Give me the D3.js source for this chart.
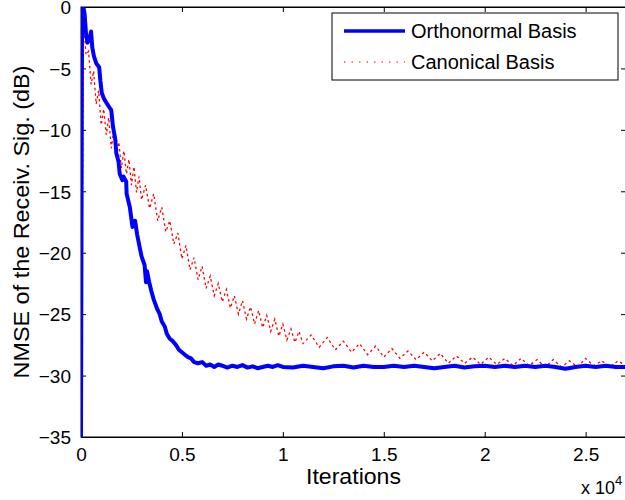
<!DOCTYPE html>
<html>
<head>
<meta charset="utf-8">
<script src="https://cdn.jsdelivr.net/npm/d3@7"></script>
<style>
  body { margin: 0; background: #fff; }
  text { font-family: "Liberation Sans", Arial, Helvetica, sans-serif; }
</style>
</head>
<body>
<script>
// ---- data ----
var xTicks = [0, 5000, 10000, 15000, 20000, 25000];
var xTickLabels = ["0", "0.5", "1", "1.5", "2", "2.5"];
var yTicks = [0, -5, -10, -15, -20, -25, -30, -35];
var yTickLabels = ["0", "\u22125", "\u221210", "\u221215", "\u221220", "\u221225", "\u221230", "\u221235"];

var seriesNames = ["Orthonormal Basis", "Canonical Basis"];

var orthoIter = [0, 50, 120, 180, 250, 320, 420, 500, 560, 640, 760, 900, 960, 1030, 1150, 1260, 1420, 1500,
    1580, 1700, 1750, 1860, 1920, 2050, 2100, 2240, 2260, 2420, 2550, 2680, 2780, 2900, 3000, 3150, 3220, 3270,
    3380, 3480, 3600, 3780, 3900, 4000, 4150, 4250, 4400, 4550, 4700, 4850, 5000, 5150, 5300, 5450, 5600, 5800,
    6000, 6200, 6400, 6600, 6800, 7000, 7250, 7500, 7750, 8000, 8250, 8500, 8750, 9000, 9250, 9500, 9750, 10000,
    10500, 11000, 11500, 12000, 12500, 13000, 13500, 14000, 14500, 15000, 15500, 16000, 16500, 17000, 17500,
    18000, 18500, 19000, 19500, 20000, 20500, 21000, 21500, 22000, 22500, 23000, 23500, 24000, 24500, 25000,
    25500, 26000, 26500, 27000];
var orthoVal = [-35, -1.0, 0.0, -0.6, -2.2, -2.9, -2.6, -2.0, -3.3, -4.0, -4.6, -4.9, -6.0, -7.0, -7.5, -7.8, -8.2, -8.4,
    -9.7, -10.8, -11.9, -12.6, -13.6, -14.1, -13.8, -14.2, -15.2, -16.3, -17.9, -17.4, -18.5, -19.5, -20.3, -21.0, -22.4, -21.5,
    -22.4, -23.1, -23.8, -24.6, -25.0, -25.6, -26.0, -26.6, -27.0, -27.2, -27.5, -27.9, -28.1, -28.3, -28.5, -28.6, -28.9, -29.0,
    -28.9, -29.2, -29.1, -29.3, -29.1, -29.2, -29.35, -29.2, -29.3, -29.15, -29.35, -29.25, -29.4, -29.3, -29.2, -29.3, -29.15, -29.3,
    -29.35, -29.2, -29.3, -29.4, -29.25, -29.2, -29.35, -29.2, -29.3, -29.3, -29.2, -29.3, -29.2, -29.3, -29.4,
    -29.3, -29.2, -29.35, -29.25, -29.2, -29.3, -29.2, -29.3, -29.2, -29.3, -29.2, -29.3, -29.45, -29.3, -29.2,
    -29.3, -29.2, -29.3, -29.3];

var canonIter = [0, 125, 250, 375, 500, 625, 750, 875, 1000, 1125, 1250, 1375, 1500, 1625, 1750, 1875, 2000, 2125,
    2250, 2375, 2500, 2625, 2750, 2875, 3000, 3200, 3400, 3600, 3800, 4000, 4200, 4400, 4600, 4800, 5000, 5200,
    5400, 5600, 5800, 6000, 6200, 6400, 6600, 6800, 7000, 7200, 7400, 7600, 7800, 8000, 8200, 8400, 8600, 8800,
    9000, 9200, 9400, 9600, 9800, 10000, 10200, 10400, 10600, 10800, 11000, 11400, 11800, 12200, 12600, 13000,
    13400, 13800, 14200, 14600, 15000, 15400, 15800, 16200, 16600, 17000, 17400, 17800, 18200, 18600, 19000,
    19400, 19800, 20200, 20600, 21000, 21400, 21800, 22200, 22600, 23000, 23400, 23800, 24200, 24600, 25000,
    25400, 25800, 26200, 26600, 27000];
var canonVal = [-35, -1.2, -3.9, -3.6, -6.3, -5.2, -7.9, -6.8, -9.6, -8.3, -10.4, -9.0, -11.5, -10.1, -12.2, -11.0, -13.1, -11.7,
    -13.6, -12.4, -14.5, -13.0, -15.1, -13.8, -15.7, -14.5, -16.4, -15.2, -17.4, -16.3, -18.3, -17.4, -19.3, -18.4, -20.5, -19.4,
    -21.4, -20.4, -22.2, -21.1, -22.9, -21.9, -23.5, -22.5, -24.0, -23.0, -24.5, -23.5, -25.0, -23.9, -25.4, -24.4, -25.8, -24.7,
    -26.1, -25.1, -26.4, -25.4, -26.8, -25.8, -27.1, -26.2, -27.3, -26.4, -27.4, -26.7, -27.7, -26.9, -27.9, -27.2,
    -28.1, -27.4, -28.3, -27.6, -28.5, -27.8, -28.6, -28.0, -28.7, -28.1, -28.8, -28.2, -29.0, -28.4, -29.0,
    -28.5, -29.1, -28.5, -29.1, -28.6, -29.2, -28.6, -29.2, -28.7, -29.3, -28.7, -29.3, -28.8, -29.3, -28.6,
    -29.2, -28.8, -29.3, -28.8, -29.2];

// ---- layout ----
var W = 625, H = 500;
var left_ = 81, top_ = 7, plotW = 545, plotH = 430;
var tickLen = 5;

var svg = d3.select("body").append("svg")
    .attr("width", W)
    .attr("height", H);

var x = d3.scaleLinear().domain([0, 27000]).range([left_, left_ + plotW]);
var y = d3.scaleLinear().domain([-35, 0]).range([top_ + plotH, top_]);

svg.append("defs").append("clipPath").attr("id", "clip")
    .append("rect")
    .attr("x", left_).attr("y", top_)
    .attr("width", plotW).attr("height", plotH);

// axes: bottom/left with labels, top/right ticks only (ticks point inward)
var xAxis = d3.axisBottom(x).tickValues(xTicks)
    .tickFormat((d, i) => xTickLabels[i]).tickSizeInner(-tickLen).tickSizeOuter(0).tickPadding(11);
var yAxis = d3.axisLeft(y).tickValues(yTicks)
    .tickFormat((d, i) => yTickLabels[i]).tickSizeInner(-tickLen).tickSizeOuter(0).tickPadding(10);

var gx = svg.append("g").attr("transform", "translate(0," + (top_ + plotH) + ")").call(xAxis);
var gy = svg.append("g").attr("transform", "translate(" + left_ + ",0)").call(yAxis);
svg.append("g").attr("transform", "translate(0," + top_ + ")")
    .call(d3.axisTop(x).tickValues(xTicks).tickFormat("").tickSizeInner(-tickLen).tickSizeOuter(0));
svg.append("g").attr("transform", "translate(" + (left_ + plotW) + ",0)")
    .call(d3.axisRight(y).tickValues(yTicks).tickFormat("").tickSizeInner(-tickLen).tickSizeOuter(0));

svg.selectAll(".domain").attr("stroke", "#000").attr("stroke-width", 1);
svg.selectAll(".tick line").attr("stroke", "#000");
gx.selectAll("text").attr("font-size", 19).attr("fill", "#000").attr("dy", "0.71em");
gy.selectAll("text").attr("font-size", 19).attr("fill", "#000").attr("dy", "0.36em");

// box
svg.append("rect")
    .attr("x", left_).attr("y", top_)
    .attr("width", plotW).attr("height", plotH)
    .attr("fill", "none").attr("stroke", "#000").attr("stroke-width", 1);

// ---- lines ----
var line = d3.line().x(d => x(d[0])).y(d => y(d[1]));
var dataG = svg.append("g").attr("clip-path", "url(#clip)");

dataG.append("path")
    .datum(canonIter.map((d, i) => [d, canonVal[i]]))
    .attr("fill", "none")
    .attr("stroke", "#ff0000")
    .attr("stroke-width", 1.3)
    .attr("stroke-dasharray", "2.5,3")
    .attr("d", line);

dataG.append("path")
    .datum(orthoIter.map((d, i) => [d, orthoVal[i]]))
    .attr("fill", "none")
    .attr("stroke", "#0000ff")
    .attr("stroke-width", 4)
    .attr("stroke-linejoin", "round")
    .attr("d", line);

// ---- labels ----
svg.append("text")
    .attr("x", left_ + plotW / 2).attr("y", 484)
    .attr("text-anchor", "middle")
    .attr("font-size", 22)
    .attr("textLength", 95)
    .attr("lengthAdjust", "spacingAndGlyphs")
    .text("Iterations");

svg.append("text")
    .attr("transform", "translate(29," + (top_ + plotH / 2) + ") rotate(-90)")
    .attr("text-anchor", "middle")
    .attr("font-size", 22)
    .attr("textLength", 313)
    .attr("lengthAdjust", "spacingAndGlyphs")
    .text("NMSE of the Receiv. Sig. (dB)");

var mult = svg.append("text")
    .attr("x", 581).attr("y", 494)
    .attr("font-size", 18);
mult.append("tspan").text("x 10");
mult.append("tspan").attr("dy", -9).attr("font-size", 13).text("4");

// ---- legend ----
var leg = svg.append("g");
leg.append("rect")
    .attr("x", 332).attr("y", 13)
    .attr("width", 286).attr("height", 67)
    .attr("fill", "#fff").attr("stroke", "#000").attr("stroke-width", 1);

var legStyles = [
    { stroke: "#0000ff", width: 3.5, dash: null },
    { stroke: "#ff0000", width: 1.2, dash: "1.5,6" }
];
seriesNames.forEach((name, i) => {
    var cy = 31 + i * 31;
    leg.append("line")
        .attr("x1", 344).attr("x2", 405)
        .attr("y1", cy).attr("y2", cy)
        .attr("stroke", legStyles[i].stroke)
        .attr("stroke-width", legStyles[i].width)
        .attr("stroke-dasharray", legStyles[i].dash);
    leg.append("text")
        .attr("x", 411).attr("y", cy + 7)
        .attr("font-size", 20)
        .text(name);
});
</script>
</body>
</html>
